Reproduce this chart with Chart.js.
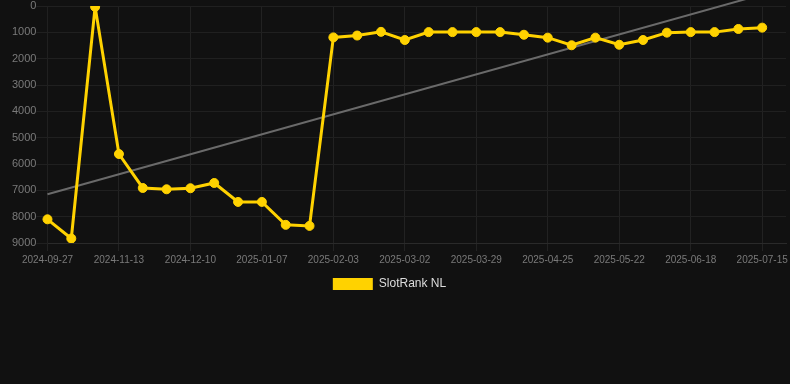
<!DOCTYPE html>
<html>
<head>
<meta charset="utf-8">
<script src="https://cdn.jsdelivr.net/npm/chart.js@4/dist/chart.umd.min.js"></script>
<style>
  html, body { margin: 0; padding: 0; background: #111111; }
  #wrap { width: 790px; height: 300px; position: relative; }
</style>
</head>
<body>
<div id="wrap"><canvas id="c"></canvas></div>
<script>
const dates = [
  '2024-09-27','2024-10-13','2024-10-28','2024-11-13','2024-11-22','2024-12-01',
  '2024-12-10','2024-12-19','2024-12-28','2025-01-07','2025-01-16','2025-01-25',
  '2025-02-03','2025-02-12','2025-02-21','2025-03-02','2025-03-11','2025-03-20',
  '2025-03-29','2025-04-07','2025-04-16','2025-04-25','2025-05-04','2025-05-13',
  '2025-05-22','2025-05-31','2025-06-09','2025-06-18','2025-06-27','2025-07-06',
  '2025-07-15'
];
const rankValues = [
  8100, 8830, 30, 5620, 6910, 6960,
  6920, 6720, 7440, 7440, 8310, 8350,
  1190, 1120, 980, 1290, 990, 990,
  990, 990, 1090, 1200, 1490, 1200,
  1470, 1290, 1010, 990, 990, 870,
  820
];
const trendStart = 7150;
const trendEnd = -440;
const yTicks = [0, 1000, 2000, 3000, 4000, 5000, 6000, 7000, 8000, 9000];

const labels = dates.concat(['']);
const trendData = dates.map((d, i) => i === 0 ? trendStart : (i === dates.length - 1 ? trendEnd : null));

const legendShift = {
  id: 'legendShift',
  afterLayout(chart) {
    if (chart.legend) { chart.legend.right -= 19; }
  }
};

new Chart(document.getElementById('c'), {
  type: 'line',
  plugins: [legendShift],
  data: {
    labels: labels,
    datasets: [
      {
        label: 'SlotRank NL',
        data: rankValues,
        borderColor: '#ffd200',
        backgroundColor: '#ffd200',
        borderWidth: 3,
        pointRadius: 4.5,
        pointHoverRadius: 4.5,
        pointBorderWidth: 1,
        pointBackgroundColor: '#ffd200',
        pointBorderColor: '#ffd200',
        tension: 0
      },
      {
        label: 'trend',
        data: trendData,
        borderColor: '#6a6a6a',
        borderWidth: 2,
        pointRadius: 0,
        spanGaps: true,
        clip: false,
        tension: 0
      }
    ]
  },
  options: {
    responsive: true,
    maintainAspectRatio: false,
    animation: false,
    layout: { autoPadding: false, padding: { left: 12, right: 4, top: 0, bottom: 0 } },
    plugins: {
      tooltip: { enabled: false },
      legend: {
        position: 'bottom',
        labels: {
          color: '#dddddd',
          padding: 9,
          font: { family: 'Liberation Sans, Arial, sans-serif', size: 12 },
          boxWidth: 40,
          boxHeight: 12,
          generateLabels: (chart) => Chart.defaults.plugins.legend.labels.generateLabels(chart)
            .filter(item => item.datasetIndex === 0)
            .map(item => Object.assign(item, { lineWidth: 0 }))
        }
      }
    },
    scales: {
      x: {
        offset: false,
        grid: {
          color: (ctx) => (ctx.index % 3 === 0 && ctx.index < dates.length) ? '#222222' : 'rgba(0,0,0,0)',
          tickColor: (ctx) => (ctx.index % 3 === 0 && ctx.index < dates.length) ? '#222222' : 'rgba(0,0,0,0)'
        },
        border: { color: '#2a2a2a' },
        ticks: {
          autoSkip: false,
          maxRotation: 0,
          minRotation: 0,
          color: '#7a7a7a',
          font: { family: 'Liberation Sans, Arial, sans-serif', size: 10 },
          callback: function (v, i) { return (i % 3 === 0) ? this.getLabelForValue(v) : ''; }
        }
      },
      y: {
        reverse: true,
        min: 0,
        max: 9000,
        afterBuildTicks: (axis) => { axis.ticks = yTicks.map(v => ({ value: v })); },
        grid: { color: '#202020', tickColor: '#202020', tickLength: 11 },
        border: { color: '#202020' },
        ticks: {
          padding: 0,
          color: '#7a7a7a',
          font: { family: 'Liberation Sans, Arial, sans-serif', size: 11, lineHeight: 1.1 },
          callback: (v) => String(v)
        }
      }
    }
  }
});
</script>
</body>
</html>
